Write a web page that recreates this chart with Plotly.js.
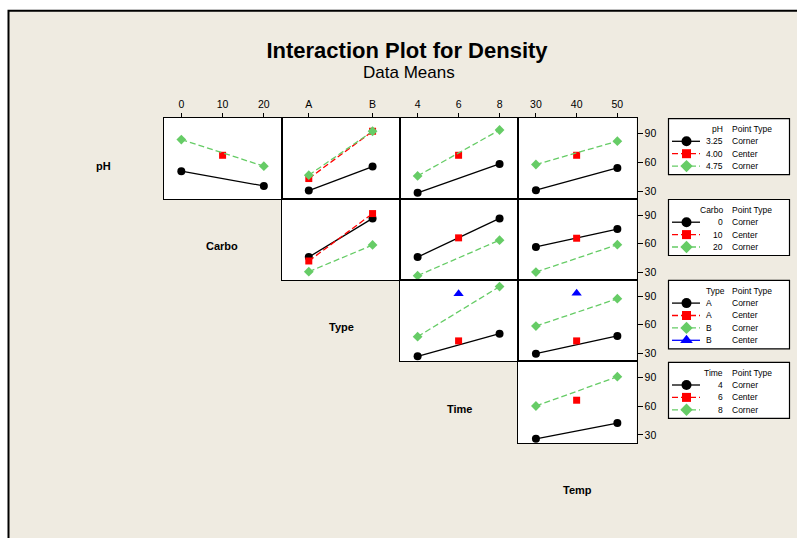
<!DOCTYPE html>
<html>
<head>
<meta charset="utf-8">
<script src="https://cdn.plot.ly/plotly-3.0.1.min.js"></script>
<style>html,body{margin:0;padding:0;background:#fff;}</style>
</head>
<body>
<div id="chart" style="width:797px;height:538px;"></div>
<script>
// ---------------- DATA ----------------
// factor levels (x axes of the columns)
const carboLevels = [0, 10, 20];
const typeLevels = ['A', 'B'];
const timeLevels = [4, 6, 8];
const tempLevels = [30, 40, 50];

// Density means. Each inner array = values for one column panel
// pH rows: vs Carbo, Type, Time, Temp
const pH325 = [[50.8, 35.5], [30.7, 55.7], [28.3, 58.4], [31.1, 54.2]];
const pH400 = [[67.4], [43.2, 92.4], [67.4], [67.4]];
const pH475 = [[83.8, 56.0], [46.7, 92.4], [45.9, 93.7], [57.8, 82.0]];
// Carbo rows: vs Type, Time, Temp
const carbo0  = [[46.0, 86.6], [46.0, 86.6], [56.6, 75.4]];
const carbo10 = [[41.9, 91.7], [66.2], [65.8]];
const carbo20 = [[30.6, 58.7], [26.5, 63.8], [30.3, 59.0]];
// Type rows: vs Time, Temp
const typeACorner = [[26.5, 50.4], [29.3, 48.0]];
const typeACenter = [[42.8], [42.8]];
const typeBCorner = [[47.3, 100.1], [58.4, 87.3]];
const typeBCenter = [[92.5], [93.1]];
// Time rows: vs Temp
const time4 = [[25.9, 42.3]];
const time6 = [[66.0]];
const time8 = [[60.0, 90.4]];

const yTicks = [30, 60, 90];
const panelLabels = ['pH', 'Carbo', 'Type', 'Time', 'Temp'];
const legendTitles = ['pH', 'Carbo', 'Type', 'Time'];
const legendValues = [['3.25', '4.00', '4.75'], ['0', '10', '20'], ['A', 'A', 'B', 'B'], ['4', '6', '8']];
const legendPointTypes = [['Corner', 'Center', 'Corner'], ['Corner', 'Center', 'Corner'],
                          ['Corner', 'Center', 'Corner', 'Center'], ['Corner', 'Center', 'Corner']];

// ---------------- LAYOUT HELPERS ----------------
const W = 797, H = 538;
const FONT = 'Liberation Sans, Arial, sans-serif';
const GREEN = '#66CC66';
const colEdges = [164, 282, 400, 518, 636.5];
const rowEdges = [117.5, 199.3, 280.3, 361, 443];
const colLevels = [carboLevels, typeLevels, timeLevels, tempLevels];
const colRanges = [[-4.2, 24.4], [-0.42, 1.43], [3.14, 8.9], [25.6, 54.7]];
const yRange = [21.6, 106.7];
const px = v => v / W;
const py = v => 1 - v / H;

const styles = {
  black: {line: {color: 'black', width: 1.3}, marker: {symbol: 'circle', size: 8, color: 'black'}},
  red:   {line: {color: 'red', width: 1.3, dash: '6px,3px'}, marker: {symbol: 'square', size: 7, color: 'red'}},
  green: {line: {color: GREEN, width: 1.3, dash: '6px,3px'}, marker: {symbol: 'diamond', size: 7.5, color: GREEN}},
  blue:  {line: {color: 'blue', width: 1.3}, marker: {symbol: 'triangle-up', size: 9, color: 'blue'}}
};

const rows = [
  {series: [pH325, pH400, pH475], kinds: ['corner', 'center', 'corner'], st: ['black', 'red', 'green']},
  {series: [carbo0, carbo10, carbo20], kinds: ['corner', 'center', 'corner'], st: ['black', 'red', 'green']},
  {series: [typeACorner, typeACenter, typeBCorner, typeBCenter], kinds: ['corner', 'center', 'corner', 'center'], st: ['black', 'red', 'green', 'blue']},
  {series: [time4, time6, time8], kinds: ['corner', 'center', 'corner'], st: ['black', 'red', 'green']}
];
const legendStyles = rows.map(r => r.st);

const traces = [];
const layout = {
  width: W, height: H,
  margin: {l: 0, r: 0, t: 0, b: 0, pad: 0},
  paper_bgcolor: 'white',
  plot_bgcolor: 'rgba(0,0,0,0)',
  showlegend: false,
  font: {family: FONT, color: 'black'},
  title: {
    text: '<b>Interaction Plot for Density</b>',
    font: {family: FONT, size: 22, color: 'black'},
    x: px(407), xanchor: 'center', xref: 'paper',
    y: py(50), yanchor: 'middle', yref: 'container'
  },
  shapes: [], annotations: []
};

// outer frame
layout.shapes.push({type: 'rect', xref: 'paper', yref: 'paper', x0: px(8.5), x1: 1.05, y0: -0.05, y1: py(10.7),
  fillcolor: '#EFEBE1', line: {color: 'black', width: 2}, layer: 'below'});

let k = 0;
for (let r = 0; r < 4; r++) {
  for (let c = r; c < 4; c++) {
    k++;
    const xa = 'xaxis' + (k === 1 ? '' : k), ya = 'yaxis' + (k === 1 ? '' : k);
    const xr = 'x' + (k === 1 ? '' : k), yr = 'y' + (k === 1 ? '' : k);
    const isType = c === 1;
    layout[xa] = {
      domain: [px(colEdges[c]), px(colEdges[c + 1])], anchor: yr, range: colRanges[c],
      type: isType ? 'category' : 'linear', categoryarray: isType ? typeLevels : undefined,
      tickvals: isType ? undefined : colLevels[c],
      side: 'top', showline: true, mirror: true, linecolor: 'black', linewidth: 1,
      showgrid: false, zeroline: false, fixedrange: true,
      ticks: r === 0 ? 'outside' : '', ticklen: 4, tickcolor: 'black', tickwidth: 1,
      showticklabels: r === 0, tickfont: {family: FONT, size: 10.5, color: 'black'}
    };
    layout[ya] = {
      domain: [py(rowEdges[r + 1]), py(rowEdges[r])], anchor: xr, range: yRange,
      side: 'right', showline: true, mirror: true, linecolor: 'black', linewidth: 1,
      showgrid: false, zeroline: false, fixedrange: true, tickvals: yTicks,
      ticks: c === 3 ? 'outside' : '', ticklen: 5, tickcolor: 'black', tickwidth: 1,
      showticklabels: c === 3, tickfont: {family: FONT, size: 10.5, color: 'black'}
    };
    layout.shapes.push({type: 'rect', xref: 'paper', yref: 'paper',
      x0: px(colEdges[c]), x1: px(colEdges[c + 1]), y0: py(rowEdges[r + 1]), y1: py(rowEdges[r]),
      fillcolor: 'white', line: {width: 0}, layer: 'below'});

    const lv = colLevels[c];
    const cornerX = [lv[0], lv[lv.length - 1]];
    const centerX = lv.length === 3 ? [lv[1]] : lv;
    const row = rows[r];
    row.series.forEach((s, i) => {
      const ys = s[c - r];
      const xs = row.kinds[i] === 'corner' ? cornerX : centerX;
      const st = styles[row.st[i]];
      traces.push({type: 'scatter', xaxis: xr, yaxis: yr, x: xs, y: ys,
        mode: ys.length > 1 ? 'lines+markers' : 'markers',
        line: st.line, marker: st.marker, cliponaxis: false, hoverinfo: 'skip'});
    });
  }
}

// overlay axis in pixel coordinates for legend symbols
const ov = 11;
layout['xaxis' + ov] = {domain: [0, 1], range: [0, W], visible: false, fixedrange: true, anchor: 'y' + ov};
layout['yaxis' + ov] = {domain: [0, 1], range: [H, 0], visible: false, fixedrange: true, anchor: 'x' + ov};

// diagonal factor labels
const labelCenters = [[103, 166], [222, 246], [341, 327], [459, 409], [577, 490]];
panelLabels.forEach((t, i) => {
  layout.annotations.push({text: '<b>' + t + '</b>', xref: 'paper', yref: 'paper',
    x: px(labelCenters[i][0]), y: py(labelCenters[i][1]), xanchor: 'center', yanchor: 'middle',
    showarrow: false, font: {family: FONT, size: 11, color: 'black'}});
});
// subtitle
layout.annotations.push({text: 'Data Means', xref: 'paper', yref: 'paper', x: px(409), y: py(72),
  xanchor: 'center', yanchor: 'middle', showarrow: false, font: {family: FONT, size: 17, color: 'black'}});

// legends (boxes + texts + symbol samples)
const legendTops = [118.6, 199.5, 280.4, 362.3];
const LF = {family: FONT, size: 8.5, color: 'black'};
legendTitles.forEach((title, b) => {
  const top = legendTops[b];
  const n = legendValues[b].length;
  const rowY = i => top + 22.7 + 12.4 * i;
  const bottom = rowY(n - 1) + 8.5;
  layout.shapes.push({type: 'rect', xref: 'paper', yref: 'paper', x0: px(668.5), x1: px(789.5),
    y0: py(bottom), y1: py(top), fillcolor: 'white', line: {color: 'black', width: 1.2}, layer: 'below'});
  const leftVals = b === 2;
  const vx = leftVals ? 704 : 725;
  const va = leftVals ? 'left' : 'right';
  layout.annotations.push({text: title, xref: 'paper', yref: 'paper', x: px(vx), y: py(top + 10.2),
    xanchor: va, yanchor: 'middle', showarrow: false, font: LF});
  layout.annotations.push({text: 'Point Type', xref: 'paper', yref: 'paper', x: px(729.5), y: py(top + 10.2),
    xanchor: 'left', yanchor: 'middle', showarrow: false, font: LF});
  legendValues[b].forEach((v, i) => {
    const yy = rowY(i);
    layout.annotations.push({text: v, xref: 'paper', yref: 'paper', x: px(vx), y: py(yy),
      xanchor: va, yanchor: 'middle', showarrow: false, font: LF});
    layout.annotations.push({text: legendPointTypes[b][i], xref: 'paper', yref: 'paper', x: px(729.5), y: py(yy),
      xanchor: 'left', yanchor: 'middle', showarrow: false, font: LF});
    const st = styles[legendStyles[b][i]];
    traces.push({type: 'scatter', xaxis: 'x' + ov, yaxis: 'y' + ov, x: [672, 700], y: [yy, yy], mode: 'lines',
      line: {color: st.line.color, width: 1.3, dash: st.line.dash ? '6px,3px' : 'solid'}, hoverinfo: 'skip'});
    traces.push({type: 'scatter', xaxis: 'x' + ov, yaxis: 'y' + ov, x: [686.5], y: [yy], mode: 'markers',
      marker: {symbol: st.marker.symbol, color: st.marker.color, size: st.marker.size + 2}, hoverinfo: 'skip'});
  });
});

Plotly.newPlot('chart', traces, layout, {staticPlot: true, displayModeBar: false});
</script>
</body>
</html>
